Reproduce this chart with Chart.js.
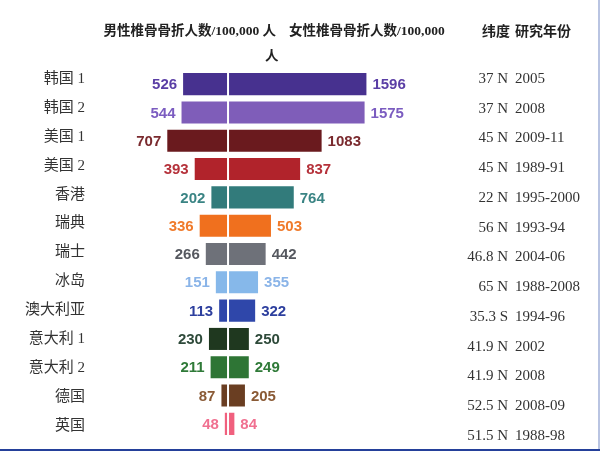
<!DOCTYPE html>
<html>
<head>
<meta charset="utf-8">
<script src="https://cdn.jsdelivr.net/npm/chart.js@4/dist/chart.umd.min.js"></script>
<style>
  html, body { margin: 0; padding: 0; background: #fff; }
  #wrap { position: relative; width: 600px; height: 451px; overflow: hidden; }
  #wrap:after { content: ""; position: absolute; left: 0; right: 0; bottom: 0; height: 2px; background: #24409a; }
  #wrap:before { content: ""; position: absolute; top: 0; bottom: 0; right: 0; width: 2px; background: #b9c4e2; }
</style>
</head>
<body>
<div id="wrap"><canvas id="c" width="600" height="451"></canvas></div>
<script>
// 数据
const regions = ["韩国 1", "韩国 2", "美国 1", "美国 2", "香港", "瑞典", "瑞士", "冰岛", "澳大利亚", "意大利 1", "意大利 2", "德国", "英国"];
const maleRates = [526, 544, 707, 393, 202, 336, 266, 151, 113, 230, 211, 87, 48];
const femaleRates = [1596, 1575, 1083, 837, 764, 503, 442, 355, 322, 250, 249, 205, 84];
const latitudes = ["37 N", "37 N", "45 N", "45 N", "22 N", "56 N", "46.8 N", "65 N", "35.3 S", "41.9 N", "41.9 N", "52.5 N", "51.5 N"];
const studyYears = ["2005", "2008", "2009-11", "1989-91", "1995-2000", "1993-94", "2004-06", "1988-2008", "1994-96", "2002", "2008", "2008-09", "1988-98"];
const barColors = ["#47318f", "#7f5db9", "#6a1a1e", "#b1232b", "#327b7b", "#f0701e", "#6e7179", "#86b8ea", "#2f47aa", "#1f381f", "#2e7535", "#6a3e22", "#f0607e"];
const labelColors = ["#5a3ea5", "#7b5cc0", "#7a2a2e", "#b5313a", "#3a8484", "#f07a2a", "#55585f", "#8ab4e8", "#2d3f9e", "#2e4a3a", "#2f7a38", "#8a5a35", "#f07090"];

const CJK = '"Noto Sans CJK SC"';

// 文字：数值标签、左侧地区、右侧纬度/年份、表头
const textPlugin = {
  id: "texts",
  afterDatasetsDraw(chart) {
    const ctx = chart.ctx;
    ctx.save();
    ctx.textBaseline = "middle";

    // 条形两端数值
    chart.data.datasets.forEach((ds, di) => {
      const meta = chart.getDatasetMeta(di);
      meta.data.forEach((bar, i) => {
        ctx.font = "bold 15px 'Liberation Sans', Arial, sans-serif";
        ctx.fillStyle = labelColors[i];
        if (di === 0) {
          ctx.textAlign = "right";
          ctx.fillText(String(maleRates[i]), bar.x - 5, bar.y + 1);
        } else {
          ctx.textAlign = "left";
          ctx.fillText(String(femaleRates[i]), bar.x + 5, bar.y + 1);
        }
      });
    });

    // 左侧地区名
    ctx.fillStyle = "#333";
    ctx.textAlign = "right";
    ctx.font = "15px 'Liberation Serif', " + CJK + ", serif";
    regions.forEach((r, i) => {
      ctx.fillText(r, 85, 79 + i * 28.9);
    });

    // 右侧两列
    ctx.font = "15px 'Liberation Serif', " + CJK + ", serif";
    latitudes.forEach((l, i) => {
      const y = 79 + i * 29.75;
      ctx.textAlign = "right";
      ctx.fillText(l, 508, y);
      ctx.textAlign = "left";
      ctx.fillText(studyYears[i], 515, y);
    });

    // 表头
    ctx.fillStyle = "#222";
    ctx.font = "bold 13.5px 'Liberation Serif', " + CJK + ", serif";
    ctx.textAlign = "right";
    ctx.fillText("男性椎骨骨折人数/100,000 人", 276, 32);
    ctx.textAlign = "left";
    ctx.fillText("女性椎骨骨折人数/100,000", 289, 32);
    ctx.fillText("人", 265, 57);
    ctx.font = "bold 14px 'Liberation Serif', " + CJK + ", serif";
    ctx.fillText("纬度", 482, 32);
    ctx.fillText("研究年份", 515, 32);

    ctx.restore();
  }
};

new Chart(document.getElementById("c"), {
  type: "bar",
  data: {
    labels: regions,
    datasets: [
      {
        label: "男性",
        data: maleRates.map(v => -v),
        backgroundColor: barColors,
        borderColor: "rgba(255,255,255,0.6)",
        borderWidth: 1,
        borderSkipped: false,
        barPercentage: 0.85,
        categoryPercentage: 1.0,
      },
      {
        label: "女性",
        data: femaleRates,
        backgroundColor: barColors,
        borderColor: "rgba(255,255,255,0.6)",
        borderWidth: 1,
        borderSkipped: false,
        barPercentage: 0.85,
        categoryPercentage: 1.0,
      },
    ],
  },
  options: {
    indexAxis: "y",
    responsive: false,
    animation: false,
    layout: { padding: { left: 100, right: 140, top: 70, bottom: 13 } },
    scales: {
      x: { stacked: true, display: false, min: -1466, max: 2656 },
      y: { stacked: true, display: false },
    },
    plugins: {
      legend: { display: false },
      tooltip: { enabled: false },
    },
  },
  plugins: [textPlugin],
});
</script>
</body>
</html>
